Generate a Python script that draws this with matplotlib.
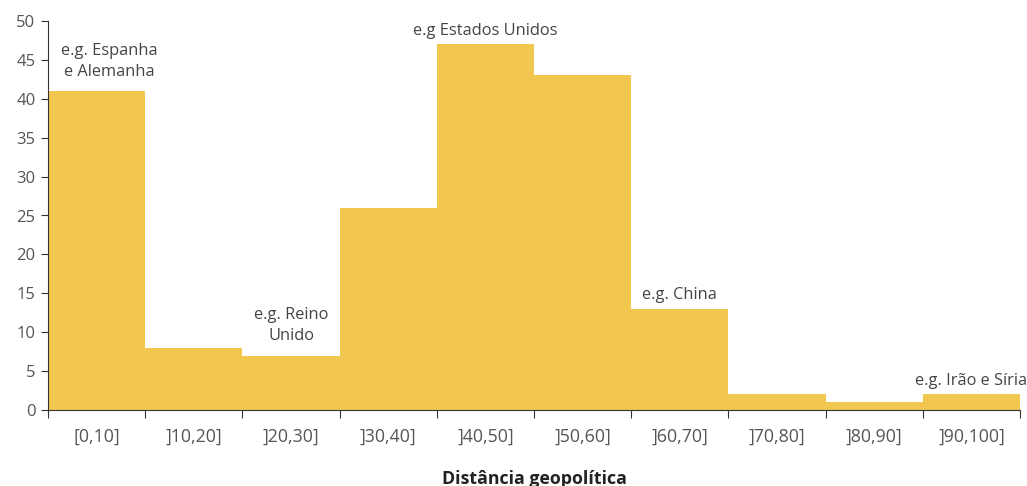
import matplotlib.pyplot as plt
import numpy as np

plt.rcParams['font.family'] = ['Open Sans', 'DejaVu Sans']

# intervalos de distância geopolítica
categorias = ['[0,10]', ']10,20]', ']20,30]', ']30,40]', ']40,50]',
              ']50,60]', ']60,70]', ']70,80]', ']80,90]', ']90,100]']
valores = [41, 8, 7, 26, 47, 43, 13, 2, 1, 2]

# anotações: índice da barra -> texto
notas = {0: 'e.g. Espanha\ne Alemanha',
         2: 'e.g. Reino\nUnido',
         4: 'e.g Estados Unidos',
         6: 'e.g. China',
         9: 'e.g. Irão e Síria'}

cor = '#F2C74F'
cinza = '#555555'

fig = plt.figure(figsize=(10.27, 4.86), dpi=100)
ax = fig.add_axes([48 / 1027, 76 / 486, 972 / 1027, 389 / 486])

x = np.arange(len(valores))
ax.bar(x, valores, width=1.0, color=cor, align='edge')

ax.set_xlim(0, len(valores))
ax.set_ylim(0, 50)
ax.set_yticks(range(0, 51, 5))
ax.set_xticks(np.arange(len(valores) + 1))
ax.set_xticklabels([])
ax.set_xticks(x + 0.5, minor=True)
ax.set_xticklabels(categorias, minor=True)
ax.tick_params(axis='x', which='major', direction='out', length=6, color='#333333')
ax.tick_params(axis='x', which='minor', length=0, pad=13, labelsize=12.8, labelcolor=cinza)
ax.tick_params(axis='y', direction='out', length=5, color='#333333', labelsize=12, labelcolor=cinza, pad=4)

for s in ['top', 'right']:
    ax.spines[s].set_visible(False)
for s in ['left', 'bottom']:
    ax.spines[s].set_color('#333333')

for i, txt in notas.items():
    dx = 0.13 if i == 0 else 0
    dy = 8 if '\n' in txt else 4
    ax.annotate(txt, (i + 0.5 + dx, valores[i]), xytext=(0, dy), textcoords='offset points',
                ha='center', va='bottom', fontsize=11.8, color='#444444', linespacing=1.45)

ax.set_xlabel('Distância geopolítica', fontsize=12.8, fontweight='bold', color='#222222', labelpad=17)

fig.savefig('out.png', dpi=100)
